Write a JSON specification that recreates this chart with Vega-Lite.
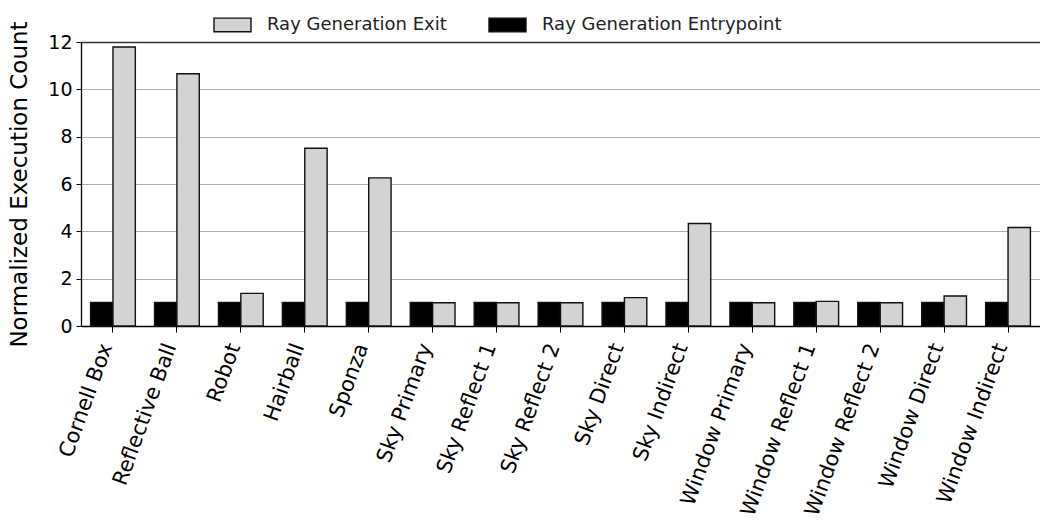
{
  "$schema": "https://vega.github.io/schema/vega-lite/v6.json",
  "autosize": {"type": "none"},
  "padding": {"left": 81, "top": 42, "right": 0, "bottom": 203},
  "width": 959,
  "height": 284,
  "background": "white",
  "config": {
    "font": "DejaVu Sans",
    "view": {"stroke": null}
  },
  "data": {
    "values": [
      {"scene": "Cornell Box", "series": "Ray Generation Entrypoint", "value": 1.0},
      {"scene": "Cornell Box", "series": "Ray Generation Exit", "value": 11.79},
      {"scene": "Reflective Ball", "series": "Ray Generation Entrypoint", "value": 1.0},
      {"scene": "Reflective Ball", "series": "Ray Generation Exit", "value": 10.66},
      {"scene": "Robot", "series": "Ray Generation Entrypoint", "value": 1.0},
      {"scene": "Robot", "series": "Ray Generation Exit", "value": 1.38},
      {"scene": "Hairball", "series": "Ray Generation Entrypoint", "value": 1.0},
      {"scene": "Hairball", "series": "Ray Generation Exit", "value": 7.51},
      {"scene": "Sponza", "series": "Ray Generation Entrypoint", "value": 1.0},
      {"scene": "Sponza", "series": "Ray Generation Exit", "value": 6.26},
      {"scene": "Sky Primary", "series": "Ray Generation Entrypoint", "value": 1.0},
      {"scene": "Sky Primary", "series": "Ray Generation Exit", "value": 0.98},
      {"scene": "Sky Reflect 1", "series": "Ray Generation Entrypoint", "value": 1.0},
      {"scene": "Sky Reflect 1", "series": "Ray Generation Exit", "value": 0.98},
      {"scene": "Sky Reflect 2", "series": "Ray Generation Entrypoint", "value": 1.0},
      {"scene": "Sky Reflect 2", "series": "Ray Generation Exit", "value": 0.98},
      {"scene": "Sky Direct", "series": "Ray Generation Entrypoint", "value": 1.0},
      {"scene": "Sky Direct", "series": "Ray Generation Exit", "value": 1.2},
      {"scene": "Sky Indirect", "series": "Ray Generation Entrypoint", "value": 1.0},
      {"scene": "Sky Indirect", "series": "Ray Generation Exit", "value": 4.33},
      {"scene": "Window Primary", "series": "Ray Generation Entrypoint", "value": 1.0},
      {"scene": "Window Primary", "series": "Ray Generation Exit", "value": 0.98},
      {"scene": "Window Reflect 1", "series": "Ray Generation Entrypoint", "value": 1.0},
      {"scene": "Window Reflect 1", "series": "Ray Generation Exit", "value": 1.04},
      {"scene": "Window Reflect 2", "series": "Ray Generation Entrypoint", "value": 1.0},
      {"scene": "Window Reflect 2", "series": "Ray Generation Exit", "value": 0.98},
      {"scene": "Window Direct", "series": "Ray Generation Entrypoint", "value": 1.0},
      {"scene": "Window Direct", "series": "Ray Generation Exit", "value": 1.27},
      {"scene": "Window Indirect", "series": "Ray Generation Entrypoint", "value": 1.0},
      {"scene": "Window Indirect", "series": "Ray Generation Exit", "value": 4.16}
    ]
  },
  "mark": {"type": "bar", "stroke": "#111111", "strokeWidth": 1.4},
  "encoding": {
    "x": {
      "field": "scene",
      "type": "nominal",
      "sort": null,
      "scale": {"paddingInner": 0.3, "paddingOuter": 0.15},
      "axis": {
        "title": null,
        "labelAngle": -70,
        "labelFontSize": 21,
        "labelColor": "#000000",
        "labelPadding": 12,
        "labelOffset": -6,
        "labelLimit": 0,
        "tickColor": "#000000",
        "tickSize": 6,
        "domainColor": "#000000",
        "domainWidth": 1.3
      }
    },
    "xOffset": {
      "field": "series",
      "type": "nominal",
      "scale": {"domain": ["Ray Generation Entrypoint", "Ray Generation Exit"], "paddingInner": 0, "paddingOuter": 0}
    },
    "y": {
      "field": "value",
      "type": "quantitative",
      "scale": {"domain": [0, 12], "nice": false},
      "axis": {
        "title": "Normalized Execution Count",
        "titleFontSize": 23,
        "titleFontWeight": "normal",
        "titleColor": "#000000",
        "titlePadding": 16,
        "values": [0, 2, 4, 6, 8, 10, 12],
        "labelFontSize": 19,
        "labelColor": "#000000",
        "labelPadding": 4,
        "tickColor": "#000000",
        "tickSize": 5,
        "domainColor": "#000000",
        "domainWidth": 1.3,
        "grid": true,
        "gridColor": {"condition": {"test": "datum.value === 12", "value": "#333333"}, "value": "#b0b0b0"},
        "gridWidth": {"condition": {"test": "datum.value === 12", "value": 1.6}, "value": 1.2}
      }
    },
    "color": {
      "field": "series",
      "type": "nominal",
      "scale": {"domain": ["Ray Generation Exit", "Ray Generation Entrypoint"], "range": ["#d3d3d3", "#000000"]},
      "legend": {
        "title": null,
        "orient": "none",
        "direction": "horizontal",
        "legendX": 132,
        "legendY": -37,
        "padding": 0,
        "symbolType": "M-1,-0.37H1V0.37H-1Z",
        "symbolSize": 1369,
        "symbolStrokeColor": "#111111",
        "symbolStrokeWidth": 1.4,
        "labelFontSize": 18,
        "labelLimit": 0,
        "labelColor": "#222222",
        "labelOffset": 15,
        "columnPadding": 39
      }
    }
  }
}
